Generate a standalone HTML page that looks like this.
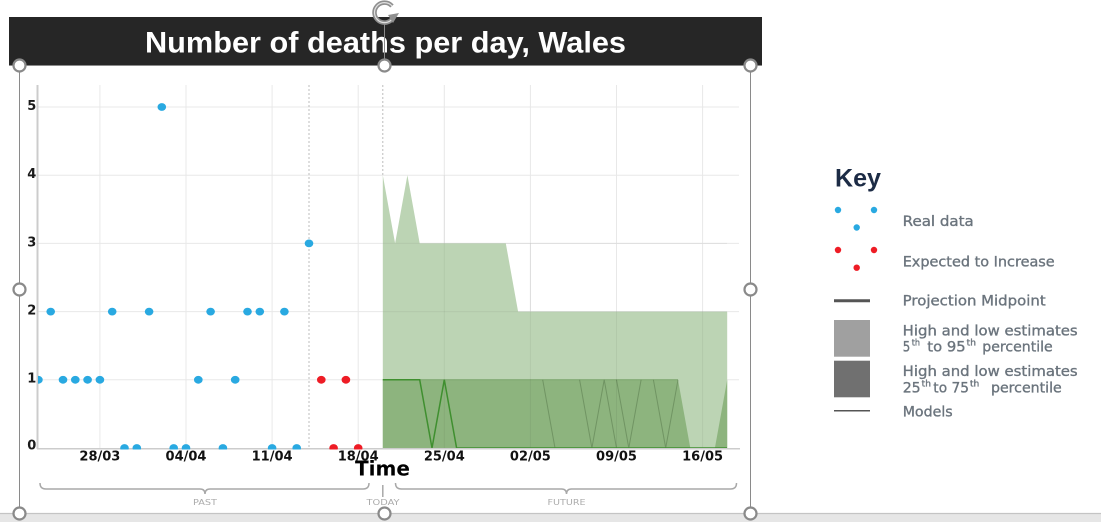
<!DOCTYPE html>
<html>
<head>
<meta charset="utf-8">
<style>
  html,body{margin:0;padding:0;background:#fff;}
  body{width:1101px;height:522px;overflow:hidden;}
  svg{display:block;}
</style>
</head>
<body>
<svg width="1101" height="522" viewBox="0 0 1101 522" xmlns="http://www.w3.org/2000/svg">
  <defs>
    <clipPath id="plot">
      <rect x="38" y="80" width="702" height="369.5"/>
    </clipPath>
  </defs>

  <!-- bottom strip -->
  <rect x="0" y="513.5" width="1101" height="9" fill="#e6e6e6"/>
  <line x1="0" y1="513.5" x2="1101" y2="513.5" stroke="#c4c4c4" stroke-width="1.2"/>

  <!-- title bar -->
  <rect x="9" y="17" width="753" height="48" fill="#262626"/>
  <text x="145" y="52.3" font-family="Liberation Sans, Arial, sans-serif" font-weight="bold" font-size="30" fill="#ffffff" textLength="481" lengthAdjust="spacingAndGlyphs">Number of deaths per day, Wales</text>

  <!-- horizontal grid -->
  <g stroke="#e8e8e8" stroke-width="1">
    <line x1="38" y1="107" x2="739" y2="107"/>
    <line x1="38" y1="175.2" x2="739" y2="175.2"/>
    <line x1="38" y1="243.4" x2="739" y2="243.4"/>
    <line x1="38" y1="311.6" x2="739" y2="311.6"/>
    <line x1="38" y1="379.8" x2="739" y2="379.8"/>
  </g>
  <!-- vertical grid -->
  <g stroke="#e8e8e8" stroke-width="1">
    <line x1="99.9" y1="85" x2="99.9" y2="448"/>
    <line x1="186" y1="85" x2="186" y2="448"/>
    <line x1="272.1" y1="85" x2="272.1" y2="448"/>
    <line x1="358.2" y1="85" x2="358.2" y2="448"/>
    <line x1="444.3" y1="85" x2="444.3" y2="448"/>
    <line x1="530.4" y1="85" x2="530.4" y2="448"/>
    <line x1="616.5" y1="85" x2="616.5" y2="448"/>
    <line x1="702.6" y1="85" x2="702.6" y2="448"/>
  </g>

  <!-- bands -->
  <g clip-path="url(#plot)">
    <path d="M382.8,448 L382.8,175.2 L395.1,243.4 L407.4,175.2 L419.7,243.4 L505.8,243.4 L518.1,311.6 L727.2,311.6 L727.2,448 Z" fill="#bcd4b4"/>
    <path d="M382.8,448 L382.8,379.8 L678,379.8 L690.3,448 L714.9,448 L727.2,379.8 L727.2,448 Z" fill="#8db47e"/>
    <line x1="382.8" y1="379.8" x2="678" y2="379.8" stroke="#7aa36b" stroke-width="1"/>
    <!-- model lines -->
    <g fill="none" stroke="rgba(60,90,50,0.35)" stroke-width="1">
      <path d="M542.7,379.8 L555,448"/>
      <path d="M579.6,379.8 L591.9,448 L604.2,379.8 L616.5,448"/>
      <path d="M616.5,379.8 L628.8,448 L641.1,379.8"/>
      <path d="M653.4,379.8 L665.7,448 L678,379.8"/>
    </g>
    <!-- grid overlay on bands -->
    <g stroke="rgba(0,0,0,0.05)" stroke-width="1">
      <line x1="444.3" y1="175" x2="444.3" y2="448"/>
      <line x1="530.4" y1="243" x2="530.4" y2="448"/>
      <line x1="616.5" y1="311" x2="616.5" y2="448"/>
      <line x1="702.6" y1="311" x2="702.6" y2="448"/>
      <line x1="383" y1="243.4" x2="727" y2="243.4"/>
      <line x1="383" y1="311.6" x2="727" y2="311.6"/>
    </g>
    <!-- midpoint line -->
    <path d="M382.8,379.8 L419.7,379.8 L432,448 L444.3,379.8 L456.6,448 L727,448" fill="none" stroke="#3f8f2f" stroke-width="1.5"/>
  </g>

  <!-- dotted lines -->
  <line x1="309" y1="85" x2="309" y2="448" stroke="#bdbdbd" stroke-width="1" stroke-dasharray="2,2"/>
  <line x1="382.8" y1="85" x2="382.8" y2="175" stroke="#bdbdbd" stroke-width="1" stroke-dasharray="2,2"/>

  <!-- axes -->
  <line x1="37.5" y1="85" x2="37.5" y2="449" stroke="#cccccc" stroke-width="2"/>
  <line x1="37" y1="448.7" x2="740" y2="448.7" stroke="#cccccc" stroke-width="1.5"/>

  <!-- points -->
  <g clip-path="url(#plot)" fill="#29a9e1">
    <ellipse cx="38.4" cy="379.8" rx="4.3" ry="3.9"/>
    <ellipse cx="50.7" cy="311.6" rx="4.3" ry="3.9"/>
    <ellipse cx="63" cy="379.8" rx="4.3" ry="3.9"/>
    <ellipse cx="75.3" cy="379.8" rx="4.3" ry="3.9"/>
    <ellipse cx="87.6" cy="379.8" rx="4.3" ry="3.9"/>
    <ellipse cx="99.9" cy="379.8" rx="4.3" ry="3.9"/>
    <ellipse cx="112.2" cy="311.6" rx="4.3" ry="3.9"/>
    <ellipse cx="124.5" cy="448" rx="4.3" ry="3.9"/>
    <ellipse cx="136.8" cy="448" rx="4.3" ry="3.9"/>
    <ellipse cx="149.1" cy="311.6" rx="4.3" ry="3.9"/>
    <ellipse cx="161.8" cy="107" rx="4.3" ry="3.9"/>
    <ellipse cx="173.7" cy="448" rx="4.3" ry="3.9"/>
    <ellipse cx="186" cy="448" rx="4.3" ry="3.9"/>
    <ellipse cx="198.3" cy="379.8" rx="4.3" ry="3.9"/>
    <ellipse cx="210.6" cy="311.6" rx="4.3" ry="3.9"/>
    <ellipse cx="222.9" cy="448" rx="4.3" ry="3.9"/>
    <ellipse cx="235.2" cy="379.8" rx="4.3" ry="3.9"/>
    <ellipse cx="247.5" cy="311.6" rx="4.3" ry="3.9"/>
    <ellipse cx="259.8" cy="311.6" rx="4.3" ry="3.9"/>
    <ellipse cx="272.1" cy="448" rx="4.3" ry="3.9"/>
    <ellipse cx="284.4" cy="311.6" rx="4.3" ry="3.9"/>
    <ellipse cx="296.7" cy="448" rx="4.3" ry="3.9"/>
    <ellipse cx="309" cy="243.4" rx="4.3" ry="3.9"/>
  </g>
  <g clip-path="url(#plot)" fill="#ee1c25">
    <ellipse cx="321.3" cy="379.8" rx="4.3" ry="3.9"/>
    <ellipse cx="333.6" cy="448" rx="4.3" ry="3.9"/>
    <ellipse cx="345.9" cy="379.8" rx="4.3" ry="3.9"/>
    <ellipse cx="358.2" cy="448" rx="4.3" ry="3.9"/>
  </g>

  <!-- y tick labels -->
  <g font-family="DejaVu Sans, Liberation Sans, sans-serif" font-weight="bold" font-size="13" fill="#1a1a1a" text-anchor="end">
    <text x="36.3" y="110">5</text>
    <text x="36.3" y="178.2">4</text>
    <text x="36.3" y="246.4">3</text>
    <text x="36.3" y="314.4">2</text>
    <text x="36.3" y="382.6">1</text>
    <text x="36.3" y="449.6">0</text>
  </g>
  <!-- x tick labels -->
  <g font-family="DejaVu Sans, Liberation Sans, sans-serif" font-weight="bold" font-size="13" fill="#111" text-anchor="middle">
    <text x="99.9" y="460.3">28/03</text>
    <text x="186" y="460.3">04/04</text>
    <text x="272.1" y="460.3">11/04</text>
    <text x="358.2" y="460.3">18/04</text>
    <text x="444.3" y="460.3">25/04</text>
    <text x="530.4" y="460.3">02/05</text>
    <text x="616.5" y="460.3">09/05</text>
    <text x="702.6" y="460.3">16/05</text>
  </g>
  <text x="355" y="475.5" font-family="DejaVu Sans, Liberation Sans, sans-serif" font-weight="bold" font-size="20" fill="#000" textLength="55" lengthAdjust="spacingAndGlyphs">Time</text>

  <!-- brackets -->
  <g fill="none" stroke="#a8a8a8" stroke-width="1.5">
    <path d="M40,483 Q40,489 46,489 L200,489 Q205,489 205,494 Q205,489 210,489 L363,489 Q369,489 369,483"/>
    <path d="M395.5,483 Q395.5,489 401.5,489 L561.5,489 Q566.5,489 566.5,494 Q566.5,489 571.5,489 L730.5,489 Q736.5,489 736.5,483"/>
    <line x1="382.8" y1="485" x2="382.8" y2="497"/>
  </g>
  <g font-family="DejaVu Sans, Liberation Sans, sans-serif" font-size="8" fill="#ababab" text-anchor="middle">
    <text x="205" y="505" textLength="24" lengthAdjust="spacingAndGlyphs">PAST</text>
    <text x="383" y="505" textLength="33" lengthAdjust="spacingAndGlyphs">TODAY</text>
    <text x="566.5" y="505" textLength="38" lengthAdjust="spacingAndGlyphs">FUTURE</text>
  </g>

  <!-- selection frame -->
  <g stroke="#8a8a8a" stroke-width="1" fill="none">
    <line x1="9" y1="65.5" x2="762" y2="65.5"/>
    <line x1="19.5" y1="65" x2="19.5" y2="513"/>
    <line x1="750.5" y1="65" x2="750.5" y2="513"/>
    <line x1="384.5" y1="22" x2="384.5" y2="60"/>
  </g>
  <g fill="#ffffff" stroke="#8a8a8a" stroke-width="2.2">
    <circle cx="19.5" cy="65.5" r="6"/>
    <circle cx="384.5" cy="65.5" r="6"/>
    <circle cx="750.5" cy="65.5" r="6"/>
    <circle cx="19.5" cy="289.5" r="6"/>
    <circle cx="750.5" cy="289.5" r="6"/>
    <circle cx="19.5" cy="513.5" r="6"/>
    <circle cx="384.5" cy="513.5" r="6"/>
    <circle cx="750.5" cy="513.5" r="6"/>
  </g>
  <!-- rotation handle -->
  <g>
    <path d="M393.5,17 A10,10 0 1 1 392,6" fill="none" stroke="#8f8f8f" stroke-width="4.5"/>
    <path d="M393.5,17 A10,10 0 1 1 392,6" fill="none" stroke="#e0e0e0" stroke-width="1.2"/>
    <polygon points="388,15 399,13 393,23" fill="#8f8f8f"/>
  </g>

  <!-- Legend -->
  <text x="835" y="186.5" font-family="Liberation Sans, Arial, sans-serif" font-weight="bold" font-size="25" fill="#1c2b45" textLength="46" lengthAdjust="spacingAndGlyphs">Key</text>
  <g fill="#29a9e1">
    <circle cx="838" cy="210" r="3.2"/>
    <circle cx="874" cy="210" r="3.2"/>
    <circle cx="856.7" cy="227.5" r="3.2"/>
  </g>
  <g fill="#ee1c25">
    <circle cx="838" cy="250" r="3.2"/>
    <circle cx="874" cy="250" r="3.2"/>
    <circle cx="856.7" cy="267.7" r="3.2"/>
  </g>
  <line x1="834" y1="300.7" x2="870" y2="300.7" stroke="#555" stroke-width="3"/>
  <rect x="834" y="320" width="36" height="36.7" fill="#a0a0a0"/>
  <rect x="834" y="360.7" width="36" height="36.6" fill="#707070"/>
  <line x1="834" y1="410.7" x2="870" y2="410.7" stroke="#555" stroke-width="1.5"/>

  <g font-family="DejaVu Sans, Liberation Sans, sans-serif" font-size="14.5" fill="#6b747d" stroke="#6b747d" stroke-width="0.35">
    <text x="902.7" y="226" textLength="71" lengthAdjust="spacingAndGlyphs">Real data</text>
    <text x="902.7" y="266.7" textLength="152" lengthAdjust="spacingAndGlyphs">Expected to Increase</text>
    <text x="902.7" y="305.7" textLength="143" lengthAdjust="spacingAndGlyphs">Projection Midpoint</text>
    <text x="902.7" y="335.7" textLength="175" lengthAdjust="spacingAndGlyphs">High and low estimates</text>
    <text x="902.7" y="351.7" textLength="7.5" lengthAdjust="spacingAndGlyphs">5</text>
    <text x="911.7" y="345.5" font-size="9" textLength="8.3" lengthAdjust="spacingAndGlyphs">th</text>
    <text x="927.3" y="351.7" textLength="38.4" lengthAdjust="spacingAndGlyphs">to 95</text>
    <text x="966.7" y="345.5" font-size="9" textLength="9.3" lengthAdjust="spacingAndGlyphs">th</text>
    <text x="982.3" y="351.7" textLength="70.4" lengthAdjust="spacingAndGlyphs">percentile</text>
    <text x="902.7" y="376" textLength="175" lengthAdjust="spacingAndGlyphs">High and low estimates</text>
    <text x="902.7" y="392.7" textLength="18" lengthAdjust="spacingAndGlyphs">25</text>
    <text x="921.7" y="386.5" font-size="9" textLength="9.3" lengthAdjust="spacingAndGlyphs">th</text>
    <text x="933.3" y="392.7" textLength="35.7" lengthAdjust="spacingAndGlyphs">to 75</text>
    <text x="970" y="386.5" font-size="9" textLength="9.3" lengthAdjust="spacingAndGlyphs">th</text>
    <text x="991" y="392.7" textLength="70.7" lengthAdjust="spacingAndGlyphs">percentile</text>
    <text x="902.7" y="416.7" textLength="50" lengthAdjust="spacingAndGlyphs">Models</text>
  </g>
</svg>
</body>
</html>
